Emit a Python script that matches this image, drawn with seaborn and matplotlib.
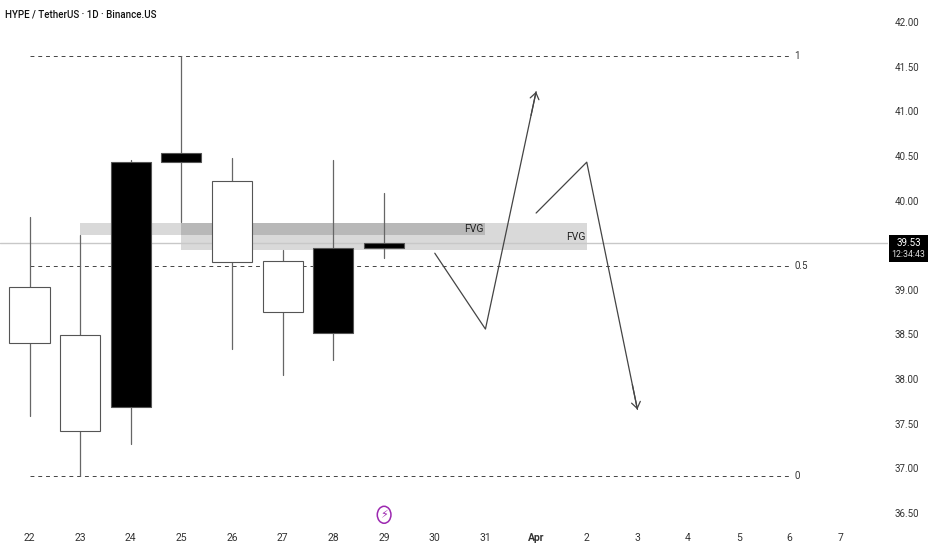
import pandas as pd
import matplotlib.pyplot as plt
from matplotlib.patches import Ellipse
import seaborn as sns

# daily candles, x is days from the 22nd
days = [0, 1, 2, 3, 4, 5, 6, 7]
opens = [38.40, 37.42, 40.43, 40.53, 39.31, 38.75, 39.47, 39.52]
closes = [39.03, 38.49, 37.69, 40.43, 40.22, 39.32, 38.52, 39.47]
highs = [39.82, 39.61, 40.45, 41.62, 40.48, 39.45, 40.45, 40.08]
lows = [37.59, 36.91, 37.27, 39.76, 38.34, 38.05, 38.21, 39.36]

x_ticks = list(range(17))
x_labels = ['22', '23', '24', '25', '26', '27', '28', '29', '30', '31', 'Apr',
            '2', '3', '4', '5', '6', '7']
# 39.50 sits behind the price tag in the reference
y_ticks = [42.0, 41.5, 41.0, 40.5, 40.0, 39.0, 38.5, 38.0, 37.5, 37.0, 36.5]

fib_levels = [41.62, 39.27, 36.91]
fib_labels = ['1', '0.5', '0']
last_price = 39.525

fvg_a_x = [1, 9]
fvg_a_y = [39.61, 39.75]
fvg_b_x = [3, 11]
fvg_b_y = [39.45, 39.75]

path_a_x = [8, 9, 10]
path_a_y = [39.41, 38.56, 41.22]
path_b_x = [10, 11, 12]
path_b_y = [39.86, 40.43, 37.66]

sns.set_theme(style="white")
plt.rcParams['font.family'] = ['Roboto', 'DejaVu Sans']

fig = plt.figure(figsize=(9.32, 5.5), dpi=100)
ax = fig.add_axes([0, 25 / 550, 888 / 932, 525 / 550])

# FVG zones
ax.fill_between(fvg_a_x, fvg_a_y[0], fvg_a_y[1], color='black', alpha=0.15, lw=0, zorder=1)
ax.fill_between(fvg_b_x, fvg_b_y[0], fvg_b_y[1], color='black', alpha=0.15, lw=0, zorder=1)
ax.text(8.97, 39.68, 'FVG', ha='right', va='center', fontsize=7.5, color='#222222', zorder=6)
ax.text(10.97, 39.59, 'FVG', ha='right', va='center', fontsize=7.5, color='#222222', zorder=6)

# fib levels
for level, label in zip(fib_levels, fib_labels):
    sns.lineplot(x=[0, 15], y=[level, level], color='#444444', lw=0.7, ax=ax, zorder=2,
                 linestyle=(0, (4, 4)))
    ax.text(15.1, level, label, ha='left', va='center', fontsize=7, color='#333333')

# last price line
ax.axhline(last_price, color='#c8c8c8', lw=1, zorder=1.5)

# wicks
wicks = pd.DataFrame({
    'day': days + days,
    'price': highs + lows,
    'candle': list(range(len(days))) * 2,
})
sns.lineplot(data=wicks, x='day', y='price', units='candle', estimator=None, color='#666666',
             lw=0.9, ax=ax, zorder=2.5, sort=False)

# bodies
candles = pd.DataFrame({'day': days, 'open': opens, 'close': closes})
candles['bottom'] = candles[['open', 'close']].min(axis=1)
candles['height'] = (candles['open'] - candles['close']).abs()
for is_up, color in [(True, 'white'), (False, 'black')]:
    part = candles[(candles['close'] > candles['open']) == is_up]
    sns.barplot(data=part, x='day', y='height', bottom=part['bottom'].values, native_scale=True,
                width=0.79, color=color, saturation=1, edgecolor='#555555', linewidth=0.8,
                errorbar=None, ax=ax, zorder=3)

# projected paths, arrow head only on the last bit of each
sns.lineplot(x=path_a_x, y=path_a_y, color='#444444', lw=0.9, ax=ax, zorder=4, sort=False)
sns.lineplot(x=path_b_x, y=path_b_y, color='#444444', lw=0.9, ax=ax, zorder=4, sort=False)
for xs, ys in [(path_a_x, path_a_y), (path_b_x, path_b_y)]:
    tail = (xs[-1] - 0.1 * (xs[-1] - xs[-2]), ys[-1] - 0.1 * (ys[-1] - ys[-2]))
    ax.annotate('', xy=(xs[-1], ys[-1]), xytext=tail, zorder=4,
                arrowprops=dict(arrowstyle='->,head_width=0.32,head_length=0.45', color='#444444',
                                lw=0.9, mutation_scale=10, shrinkA=0, shrinkB=0))

# lightning badge
ax.add_patch(Ellipse((7, 36.48), 0.27, 0.19, fill=False, ec='#9c27b0', lw=1.1, zorder=5))
ax.text(7, 36.48, '\u26a1', ha='center', va='center', fontsize=8, color='#9c27b0',
        family=['DejaVu Sans'], zorder=5)

ax.set_xlim(-29.5 / 50.66, (888 - 29.5) / 50.66)
ax.set_ylim(42 - 503 / 89.27, 42 + 22 / 89.27)
ax.set_xlabel('')
ax.set_ylabel('')
ax.set_xticks(x_ticks)
ax.set_xticklabels(x_labels)
ax.set_yticks(y_ticks)
ax.set_yticklabels([f'{v:.2f}' for v in y_ticks])
ax.yaxis.tick_right()
ax.tick_params(axis='x', length=0, pad=6, labelsize=7.5, labelcolor='#333333')
ax.tick_params(axis='y', length=0, pad=4.5, labelsize=7, labelcolor='#333333')
ax.get_xticklabels()[10].set_fontweight('bold')
sns.despine(ax=ax, left=True, bottom=True, top=True, right=True)
ax.grid(False)

fig.text(5 / 932, 1 - 14 / 550, 'HYPE / TetherUS \u00b7 1D \u00b7 Binance.US', ha='left', va='center',
         fontsize=7, fontweight='medium', color='#111111')

# price tag on the axis
tag = fig.add_axes([889 / 932, 1 - 262 / 550, 39 / 932, 27 / 550])
tag.set_facecolor('black')
tag.set_xticks([])
tag.set_yticks([])
sns.despine(ax=tag, left=True, bottom=True)
tag.text(0.5, 0.72, '39.53', color='white', fontsize=7, va='center', ha='center', transform=tag.transAxes)
tag.text(0.5, 0.26, '12:34:43', color='#dddddd', fontsize=6.3, va='center', ha='center', transform=tag.transAxes)

fig.savefig('out.png', dpi=100)
